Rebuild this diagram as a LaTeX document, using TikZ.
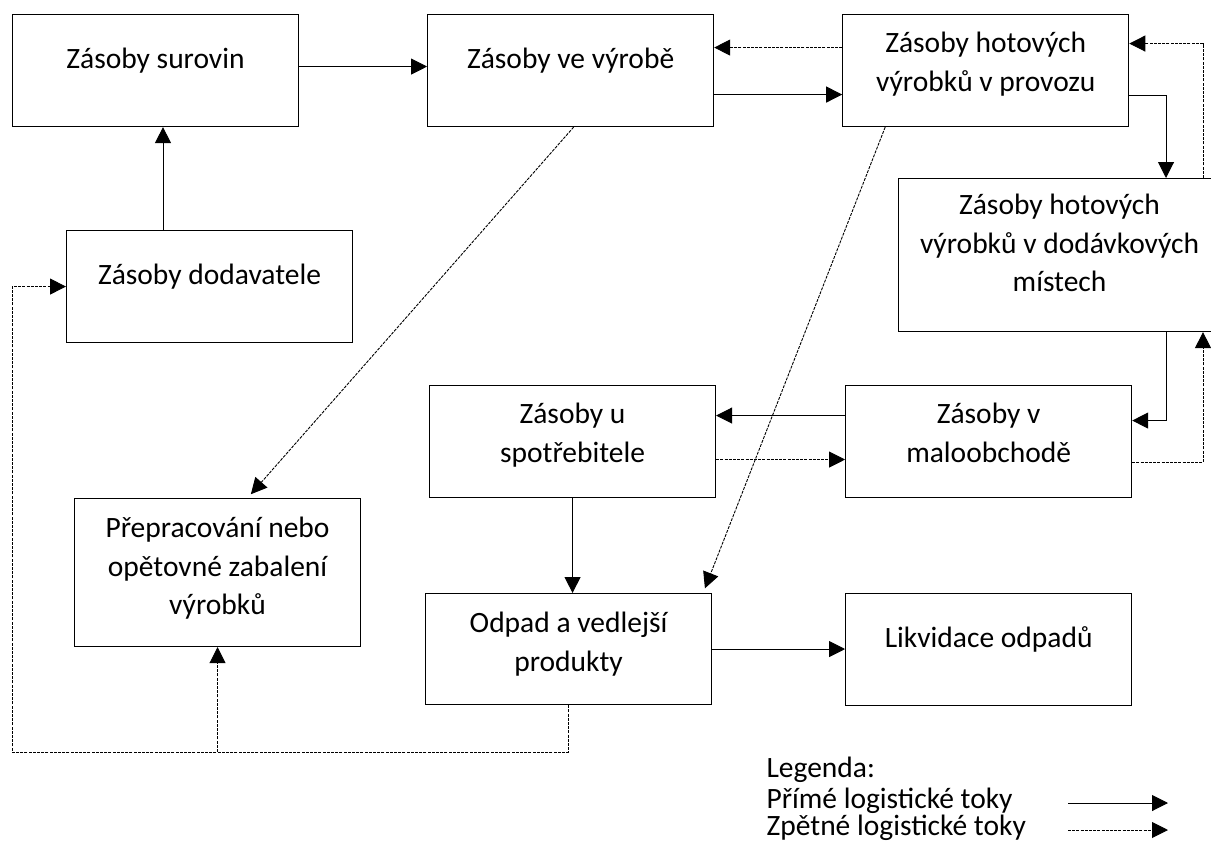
\documentclass[tikz,border=0pt]{standalone}
\usepackage{fontspec}
\setmainfont{Carlito}
\usetikzlibrary{arrows.meta, positioning}

\newcommand{\obsah}[4]{\parbox[t][#2][t]{#1}{\centering\vspace*{#3}\strut #4}}

\begin{document}
\begin{tikzpicture}[x=1pt, y=-1pt,
	font=\fontsize{29.5pt}{38.5pt}\selectfont,
	zasoba/.style={draw, fill=white, line width=1.1pt, inner sep=0pt, anchor=north west},
	primy/.style={line width=1pt, -{Triangle[length=16pt, width=16pt]}},
	zpetny/.style={line width=0.9pt, dash pattern=on 3pt off 1.2pt, -{Triangle[length=16pt, width=16pt]}}]
	\useasboundingbox (0,0) rectangle (1211,852);
	
	\node[zasoba] (surovin) at (12,14)
	{\obsah{286pt}{112pt}{27pt}{Zásoby surovin}};
	\node[zasoba, right = 128pt of surovin] (vyroba)
	{\obsah{286pt}{112pt}{27pt}{Zásoby ve výrobě}};
	\node[zasoba, right = 128pt of vyroba] (provoz)
	{\obsah{286pt}{112pt}{11pt}{Zásoby hotových\\ výrobků v provozu}};
	\node[zasoba] (dodavky) at (898,178)
	{\obsah{322pt}{153pt}{9pt}{Zásoby hotových\\ výrobků v dodávkových\\ místech}};
	\node[zasoba] (dodavatel) at (66,230)
	{\obsah{286pt}{112pt}{27pt}{Zásoby dodavatele}};
	\node[zasoba] (spotrebitel) at (429,385)
	{\obsah{286pt}{112pt}{11pt}{Zásoby u\\ spotřebitele}};
	\node[zasoba, right = 129pt of spotrebitel] (maloobchod)
	{\obsah{286pt}{112pt}{11pt}{Zásoby v\\ maloobchodě}};
	\node[zasoba] (prepracovani) at (74,498)
	{\obsah{286pt}{148pt}{12pt}{Přepracování nebo\\ opětovné zabalení\\ výrobků}};
	\node[zasoba] (odpad) at (425,593)
	{\obsah{286pt}{111pt}{12pt}{Odpad a vedlejší\\ produkty}};
	\node[zasoba, right = 133pt of odpad] (likvidace)
	{\obsah{286pt}{112pt}{27pt}{Likvidace odpadů}};
	
	% prime toky
	\draw[primy] ([yshift=4pt]surovin.east) -- ([yshift=4pt]surovin.east -| vyroba.west);
	\draw[primy] ([xshift=97pt]dodavatel.north west) -- ([xshift=97pt]dodavatel.north west |- surovin.south);
	\draw[primy] ([yshift=-24pt]vyroba.east) -- ([yshift=-24pt]vyroba.east -| provoz.west);
	\draw[primy] ([yshift=-25pt]provoz.east) -| ([xshift=268pt]dodavky.north west);
	\draw[primy] ([xshift=268pt]dodavky.south west) |- ([yshift=21pt]maloobchod.east);
	\draw[primy] ([yshift=26pt]maloobchod.west) -- ([yshift=26pt]maloobchod.west -| spotrebitel.east);
	\draw[primy] (spotrebitel.south) -- (spotrebitel.south |- odpad.north);
	\draw[primy] (odpad.east) -- (odpad.east -| likvidace.west);
	
	% zpetne toky
	\draw[zpetny] ([yshift=23pt]provoz.west) -- ([yshift=23pt]provoz.west -| vyroba.east);
	\draw[zpetny] ([yshift=-21pt]maloobchod.east) -| ([xshift=305pt]dodavky.south west);
	\draw[zpetny] ([xshift=305pt]dodavky.north west) |- ([yshift=27pt]provoz.east);
	\draw[zpetny] ([yshift=-18pt]spotrebitel.east) -- ([yshift=-18pt]spotrebitel.east -| maloobchod.west);
	\draw[zpetny, shorten >=5pt] ([xshift=3pt]vyroba.south) -- ([xshift=30pt]prepracovani.north);
	\draw[zpetny, shorten >=5pt] ([xshift=43pt]provoz.south west) -- ([xshift=-9pt]odpad.north east);
	\coordinate (roh) at (12,752);
	\draw[zpetny] (odpad.south) |- (roh) |- (dodavatel.west);
	\draw[zpetny] (prepracovani.south |- roh) -- (prepracovani.south);
	
	% legenda
	\node[anchor=base west] (legenda) at (763,777) {Legenda:};
	\node[anchor=base west] (primelbl) at (763,808) {Přímé logistické toky};
	\node[anchor=base west] (zpetnelbl) at (763,835) {Zpětné logistické toky};
	\coordinate (p1) at (1068,803);
	\coordinate (p2) at (1168,803);
	\coordinate (z1) at (1068,830);
	\coordinate (z2) at (1168,830);
	\draw[primy] (p1) -- (p2);
	\draw[zpetny] (z1) -- (z2);
\end{tikzpicture}
\end{document}
